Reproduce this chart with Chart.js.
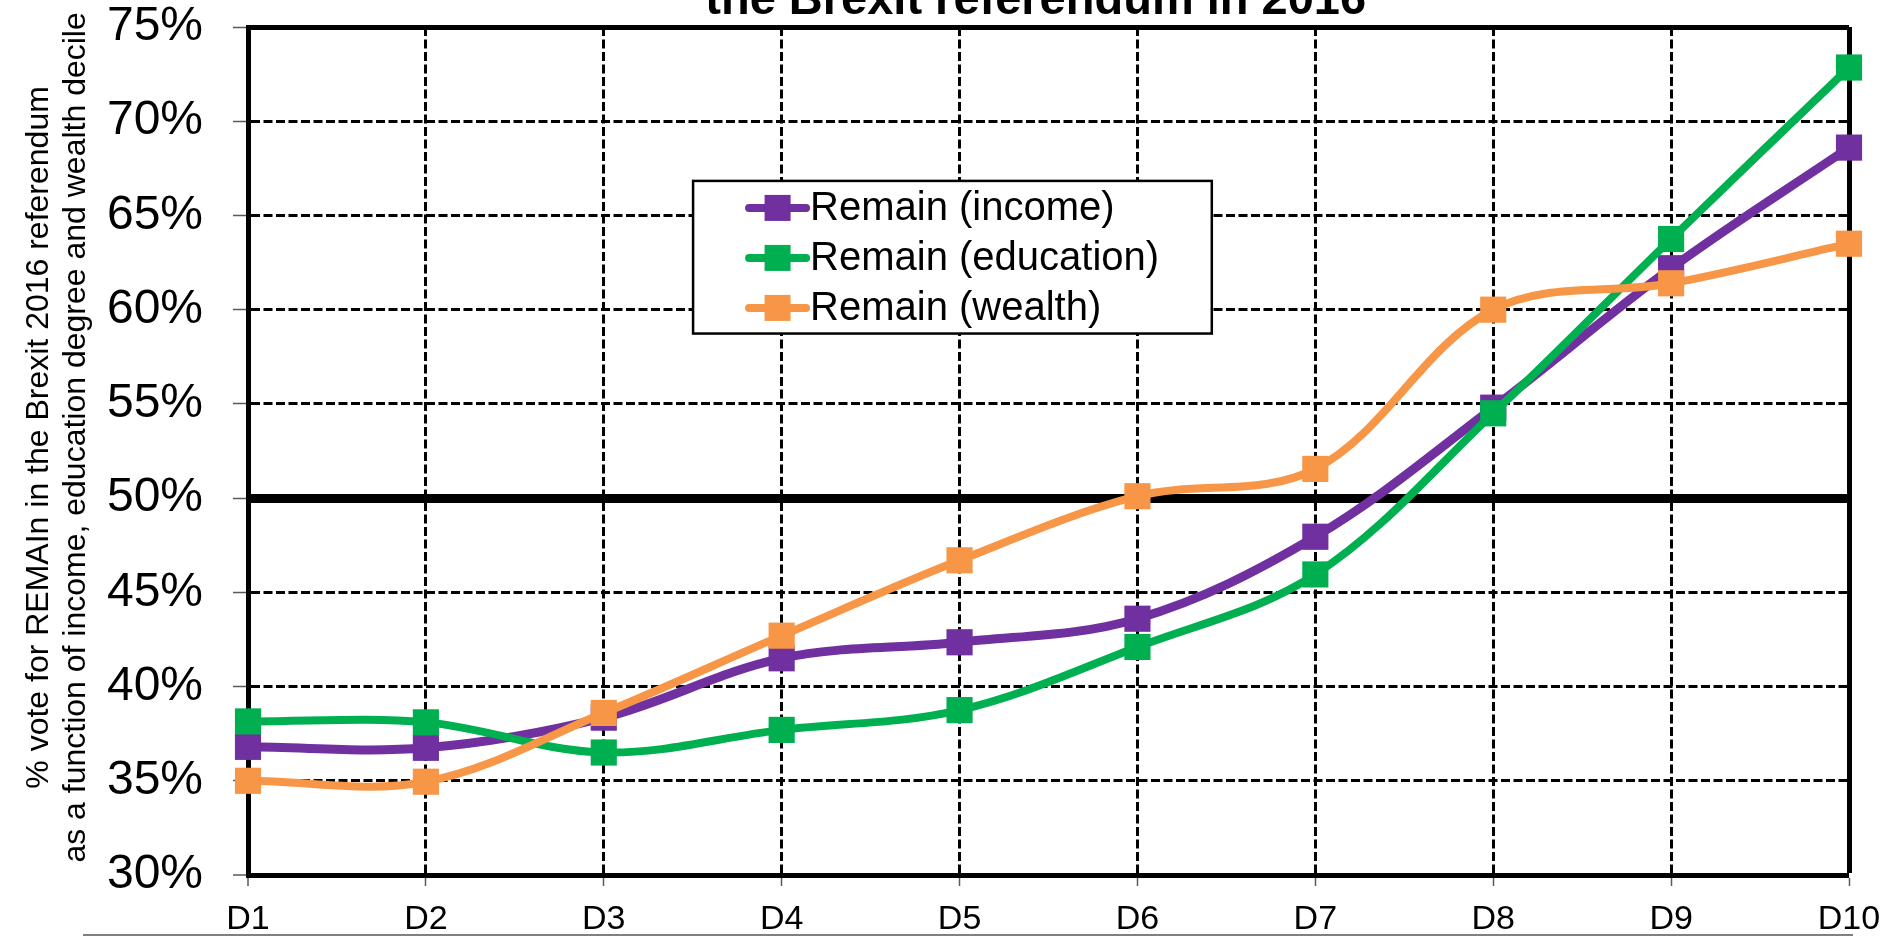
<!DOCTYPE html>
<html>
<head>
<meta charset="utf-8">
<script src="https://cdn.jsdelivr.net/npm/chart.js@4/dist/chart.umd.min.js"></script>
<style>
  html, body { margin: 0; padding: 0; background: #fff; overflow: hidden; }
  #wrap { position: relative; width: 1894px; height: 937px; }
  canvas { display: block; }
</style>
</head>
<body>
<div id="wrap"><canvas id="c" width="1894" height="937"></canvas></div>
<script>
// ---- data ----
const deciles = ['D1', 'D2', 'D3', 'D4', 'D5', 'D6', 'D7', 'D8', 'D9', 'D10'];
const remainIncome    = [36.8, 36.75, 38.35, 41.5, 42.35, 43.6, 47.95, 54.8, 62.2, 68.6];
const remainEducation = [38.15, 38.1, 36.5, 37.7, 38.75, 42.1, 45.95, 54.5, 63.75, 72.85];
const remainWealth    = [35.0, 34.95, 38.6, 42.7, 46.7, 50.1, 51.55, 60.0, 61.4, 63.5];
const seriesLabels = ['Remain (income)', 'Remain (education)', 'Remain (wealth)'];
const yTicks = [30, 35, 40, 45, 50, 55, 60, 65, 70, 75];
const titleText = 'the Brexit referendum in 2016';
const yTitle = ['% vote for REMAIn in the Brexit 2016 referendum',
                'as a function of income, education degree and wealth decile'];

const COLORS = ['#7030A0', '#00B050', '#F79646'];
const FONT = '"Liberation Sans", Arial, Helvetica, sans-serif';
const DASH = [9, 3.5];

const textPlugin = {
  id: 'texts',
  afterDraw(chart) {
    const ctx = chart.ctx;
    const a = chart.chartArea;
    ctx.save();
    // chart title (upper part cut off by the page edge)
    ctx.font = 'bold 47px ' + FONT;
    ctx.fillStyle = '#000';
    ctx.textAlign = 'center';
    ctx.textBaseline = 'alphabetic';
    ctx.fillText(titleText, a.left + (a.right - a.left) * 0.492, a.top - 13);
    // y axis title (two rotated lines)
    ctx.save();
    ctx.translate(0, a.top + (a.bottom - a.top) * 0.484);
    ctx.rotate(-Math.PI / 2);
    ctx.font = '32px ' + FONT;
    ctx.textBaseline = 'middle';
    ctx.textAlign = 'center';
    ctx.fillText(yTitle[0], 0, 39);
    ctx.fillText(yTitle[1], 0, 76);
    ctx.restore();
    // bottom frame line
    ctx.strokeStyle = '#808080';
    ctx.lineWidth = 2;
    ctx.beginPath();
    ctx.moveTo(83, 935);
    ctx.lineTo(a.right + 4, 935);
    ctx.stroke();
    ctx.restore();
  }
};

const boxLegend = {
  id: 'boxLegend',
  afterDraw(chart) {
    const ctx = chart.ctx;
    const a = chart.chartArea;
    const w = a.right - a.left;
    const h = a.bottom - a.top;
    const bx = a.left + w * 0.278, by = a.top + h * 0.1815;
    const bw = w * 0.324, bh = h * 0.18;
    ctx.save();
    ctx.fillStyle = '#fff';
    ctx.fillRect(bx, by, bw, bh);
    ctx.lineWidth = 2.5;
    ctx.strokeStyle = '#000';
    ctx.strokeRect(bx, by, bw, bh);
    chart.data.datasets.forEach((ds, i) => {
      const y = by + 27 + i * 50;
      const lx0 = bx + 56, lx1 = bx + 113, cx = (lx0 + lx1) / 2;
      ctx.strokeStyle = ds.borderColor;
      ctx.lineWidth = 8;
      ctx.lineCap = 'round';
      ctx.beginPath();
      ctx.moveTo(lx0, y);
      ctx.lineTo(lx1, y);
      ctx.stroke();
      ctx.fillStyle = ds.backgroundColor;
      ctx.fillRect(cx - 13, y - 13, 26, 26);
      ctx.fillStyle = '#000';
      ctx.font = '40px ' + FONT;
      ctx.textAlign = 'left';
      ctx.textBaseline = 'middle';
      ctx.fillText(ds.label, bx + 117, y + 1);
    });
    ctx.restore();
  }
};

const values = [remainIncome, remainEducation, remainWealth];
const datasets = values.map((vals, i) => ({
  label: seriesLabels[i],
  data: vals,
  borderColor: COLORS[i],
  backgroundColor: COLORS[i],
  borderWidth: i === 0 ? 9 : 8,
  tension: 0.35,
  pointStyle: 'rect',
  pointRadius: 18.5,
  pointHoverRadius: 18.5,
  pointBorderWidth: 0,
  pointBackgroundColor: COLORS[i],
  clip: false,
  order: 3 - i
}));

new Chart(document.getElementById('c'), {
  type: 'line',
  data: { labels: deciles, datasets },
  plugins: [textPlugin, boxLegend],
  options: {
    responsive: false,
    animation: false,
    devicePixelRatio: 1,
    layout: { padding: { top: 27, right: 45, bottom: 0, left: 0 } },
    plugins: {
      legend: { display: false },
      title: { display: false },
      tooltip: { enabled: false }
    },
    scales: {
      x: {
        type: 'category',
        offset: false,
        afterFit(s) { s.height = 62; s.paddingLeft = 0; s.paddingRight = 0; },
        grid: {
          color: '#000',
          lineWidth: (c) => c.index === 0 ? 0 : (c.index === deciles.length - 1 ? 5 : 3),
          drawTicks: true,
          tickLength: 11,
          tickColor: '#595959',
          tickWidth: 1.5,
          tickBorderDash: []
        },
        border: {
          display: true,
          color: '#000',
          width: 5,
          dash: (c) => (c.index === deciles.length - 1 ? [] : DASH)
        },
        ticks: {
          color: '#000',
          font: { family: FONT, size: 34, lineHeight: 1.2 },
          padding: 13,
          maxRotation: 0,
          autoSkip: false
        }
      },
      y: {
        min: 30,
        max: 75,
        afterBuildTicks(s) { s.ticks = yTicks.map(v => ({ value: v })); },
        afterFit(s) { s.width = 248; s.paddingTop = 0; s.paddingBottom = 0; },
        grid: {
          color: '#000',
          lineWidth: (c) => {
            const v = c.tick ? c.tick.value : null;
            if (v === 30) return 0;
            if (v === 50) return 9;
            if (v === 75) return 5;
            return 3;
          },
          drawTicks: true,
          tickLength: 15,
          tickColor: '#595959',
          tickWidth: 1.5,
          tickBorderDash: []
        },
        border: {
          display: true,
          color: '#000',
          width: 5,
          dash: (c) => {
            const v = c.tick ? c.tick.value : null;
            return (v === 50 || v === 75) ? [] : DASH;
          }
        },
        ticks: {
          color: '#000',
          font: { family: FONT, size: 48, lineHeight: 1.1 },
          padding: 30,
          callback: (v) => v + '%'
        }
      }
    }
  }
});
</script>
</body>
</html>
